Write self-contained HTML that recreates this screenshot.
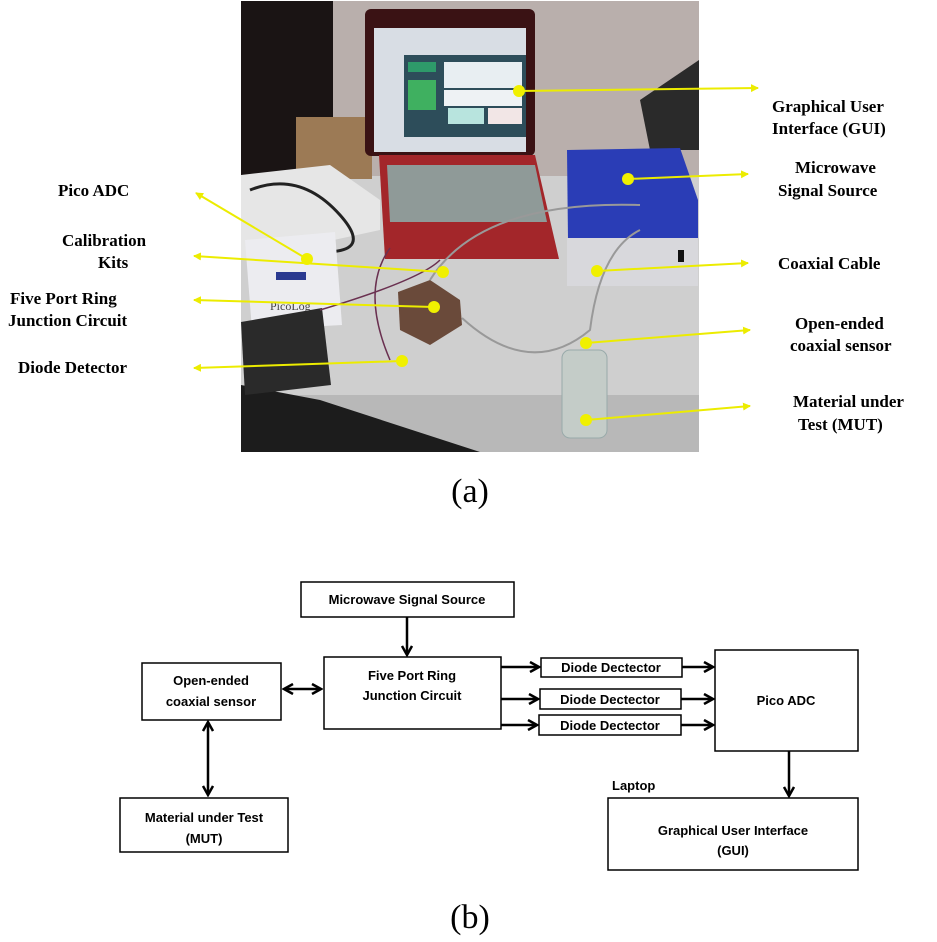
<!DOCTYPE html>
<html><head><meta charset="utf-8"><style>
html,body{margin:0;padding:0;background:#fff}
svg{display:block}
.l{font-family:"Liberation Serif",serif;font-weight:bold;font-size:17px;fill:#000}
.b{font-family:"Liberation Sans",sans-serif;font-weight:bold;font-size:13px;fill:#000}
</style></head><body>
<svg width="937" height="942" viewBox="0 0 937 942" xmlns="http://www.w3.org/2000/svg">
<defs>
<marker id="ya" markerWidth="8" markerHeight="8" refX="7" refY="4" orient="auto" markerUnits="userSpaceOnUse"><path d="M0,0 L8,4 L0,8 z" fill="#ecec00"/></marker>
<marker id="ka" markerWidth="12" markerHeight="12" refX="10" refY="6" orient="auto" markerUnits="userSpaceOnUse"><path d="M1,1 L10,6 L1,11" fill="none" stroke="#000" stroke-width="2.5"/></marker>
<marker id="ks" markerWidth="12" markerHeight="12" refX="2" refY="6" orient="auto" markerUnits="userSpaceOnUse"><path d="M11,1 L2,6 L11,11" fill="none" stroke="#000" stroke-width="2.5"/></marker>
</defs>
<!-- photo -->
<rect x="241" y="1" width="458" height="451" fill="#cfcfcf"/>
<rect x="241" y="1" width="458" height="175" fill="#b9afac"/>
<rect x="241" y="1" width="92" height="180" fill="#1a1414"/>
<polygon points="640,100 699,60 699,150 650,150" fill="#2a2a2a"/>
<rect x="296" y="117" width="76" height="62" fill="#9c7a55"/>
<polygon points="241,175 330,165 380,200 380,230 241,260" fill="#e6e6e6"/>
<path d="M250,190 Q300,170 340,215 T300,250" fill="none" stroke="#222" stroke-width="3"/>
<rect x="241" y="395" width="458" height="57" fill="#b8b8b8"/>
<polygon points="241,385 320,400 480,452 241,452" fill="#1c1c1c"/>
<!-- laptop -->
<rect x="365" y="9" width="170" height="147" rx="6" fill="#3a1214"/>
<rect x="374" y="28" width="152" height="124" fill="#d8dde4"/>
<rect x="404" y="55" width="122" height="82" fill="#2d4d5a"/>
<rect x="408" y="62" width="28" height="10" fill="#2e9a6a"/>
<rect x="408" y="80" width="28" height="30" fill="#3fb060"/>
<rect x="444" y="62" width="78" height="26" fill="#e8eef2"/>
<rect x="444" y="90" width="78" height="16" fill="#eef2f4"/>
<rect x="448" y="108" width="36" height="16" fill="#b8e4de"/>
<rect x="488" y="108" width="34" height="16" fill="#f2e6e6"/>
<polygon points="379,155 535,155 559,259 385,259" fill="#a3262a"/>
<polygon points="387,165 535,165 547,222 390,222" fill="#8f9a98"/>
<!-- blue box -->
<polygon points="567,150 680,148 698,200 698,245 568,240" fill="#2a3db6"/>
<rect x="567" y="238" width="131" height="48" fill="#d8d8dc"/>
<rect x="678" y="250" width="6" height="12" fill="#111"/>
<!-- picolog -->
<polygon points="245,240 335,232 342,325 252,330" fill="#ececf0"/>
<rect x="276" y="272" width="30" height="8" fill="#2a3a90"/>
<text x="270" y="310" font-family="Liberation Serif" font-size="12" fill="#444">PicoLog</text>
<polygon points="241,322 322,308 331,385 245,395" fill="#2a2a2a"/>
<!-- hexagon -->
<polygon points="398,292 430,280 460,300 462,325 430,345 400,330" fill="#6a4a3a"/>
<path d="M320,310 Q420,280 440,260 M390,248 Q360,290 390,360" fill="none" stroke="#6a3050" stroke-width="1.5"/>
<path d="M462,318 Q530,380 590,330 Q600,250 640,230 M430,280 Q480,200 640,205" fill="none" stroke="#999" stroke-width="2"/>
<!-- bottle -->
<rect x="562" y="350" width="45" height="88" rx="8" fill="#c4ccc8" stroke="#9aa" />
<!-- yellow lines -->
<g stroke="#ecec00" stroke-width="2" fill="none">
<line x1="519" y1="91" x2="758" y2="88" marker-end="url(#ya)"/>
<line x1="628" y1="179" x2="748" y2="174" marker-end="url(#ya)"/>
<line x1="597" y1="271" x2="748" y2="263" marker-end="url(#ya)"/>
<line x1="586" y1="343" x2="750" y2="330" marker-end="url(#ya)"/>
<line x1="586" y1="420" x2="750" y2="406" marker-end="url(#ya)"/>
<line x1="307" y1="259" x2="196" y2="193" marker-end="url(#ya)"/>
<line x1="443" y1="272" x2="194" y2="256" marker-end="url(#ya)"/>
<line x1="434" y1="307" x2="194" y2="300" marker-end="url(#ya)"/>
<line x1="402" y1="361" x2="194" y2="368" marker-end="url(#ya)"/>
</g>
<g fill="#f0f000">
<circle cx="519" cy="91" r="6"/><circle cx="628" cy="179" r="6"/><circle cx="597" cy="271" r="6"/>
<circle cx="586" cy="343" r="6"/><circle cx="586" cy="420" r="6"/><circle cx="307" cy="259" r="6"/>
<circle cx="443" cy="272" r="6"/><circle cx="434" cy="307" r="6"/><circle cx="402" cy="361" r="6"/>
</g>
<!-- labels -->
<text class="l" x="58" y="196">Pico ADC</text>
<text class="l" x="62" y="246">Calibration</text><text class="l" x="98" y="268">Kits</text>
<text class="l" x="10" y="304">Five Port Ring</text><text class="l" x="8" y="326">Junction Circuit</text>
<text class="l" x="18" y="373">Diode Detector</text>
<text class="l" x="772" y="112">Graphical User</text><text class="l" x="772" y="134">Interface (GUI)</text>
<text class="l" x="795" y="173">Microwave</text><text class="l" x="778" y="196">Signal Source</text>
<text class="l" x="778" y="269">Coaxial Cable</text>
<text class="l" x="795" y="329">Open-ended</text><text class="l" x="790" y="351">coaxial sensor</text>
<text class="l" x="793" y="407">Material under</text><text class="l" x="798" y="430">Test (MUT)</text>
<text x="470" y="502" text-anchor="middle" font-family="Liberation Serif" font-size="34">(a)</text>
<!-- block diagram -->
<g fill="none" stroke="#000" stroke-width="1.5">
<rect x="301" y="582" width="213" height="35"/>
<rect x="324" y="657" width="177" height="72"/>
<rect x="142" y="663" width="139" height="57"/>
<rect x="120" y="798" width="168" height="54"/>
<rect x="541" y="658" width="141" height="19"/>
<rect x="540" y="689" width="141" height="20"/>
<rect x="539" y="715" width="142" height="20"/>
<rect x="715" y="650" width="143" height="101"/>
<rect x="608" y="798" width="250" height="72"/>
</g>
<g stroke="#000" stroke-width="2.5" fill="none">
<line x1="407" y1="617" x2="407" y2="655" marker-end="url(#ka)"/>
<line x1="284" y1="689" x2="321" y2="689" marker-start="url(#ks)" marker-end="url(#ka)"/>
<line x1="208" y1="722" x2="208" y2="795" marker-start="url(#ks)" marker-end="url(#ka)"/>
<line x1="501" y1="667" x2="539" y2="667" marker-end="url(#ka)"/>
<line x1="501" y1="699" x2="538" y2="699" marker-end="url(#ka)"/>
<line x1="501" y1="725" x2="537" y2="725" marker-end="url(#ka)"/>
<line x1="682" y1="667" x2="713" y2="667" marker-end="url(#ka)"/>
<line x1="681" y1="699" x2="713" y2="699" marker-end="url(#ka)"/>
<line x1="681" y1="725" x2="713" y2="725" marker-end="url(#ka)"/>
<line x1="789" y1="751" x2="789" y2="796" marker-end="url(#ka)"/>
</g>
<text class="b" x="407" y="604" text-anchor="middle">Microwave Signal Source</text>
<text class="b" x="412" y="680" text-anchor="middle">Five Port Ring</text>
<text class="b" x="412" y="700" text-anchor="middle">Junction Circuit</text>
<text class="b" x="211" y="685" text-anchor="middle">Open-ended</text>
<text class="b" x="211" y="706" text-anchor="middle">coaxial sensor</text>
<text class="b" x="204" y="822" text-anchor="middle">Material under Test</text>
<text class="b" x="204" y="843" text-anchor="middle">(MUT)</text>
<text class="b" x="611" y="672" text-anchor="middle">Diode Dectector</text>
<text class="b" x="610" y="704" text-anchor="middle">Diode Dectector</text>
<text class="b" x="610" y="730" text-anchor="middle">Diode Dectector</text>
<text class="b" x="786" y="705" text-anchor="middle">Pico ADC</text>
<text class="b" x="612" y="790">Laptop</text>
<text class="b" x="733" y="835" text-anchor="middle">Graphical User Interface</text>
<text class="b" x="733" y="855" text-anchor="middle">(GUI)</text>
<text x="470" y="928" text-anchor="middle" font-family="Liberation Serif" font-size="34">(b)</text>
</svg>
</body></html>
